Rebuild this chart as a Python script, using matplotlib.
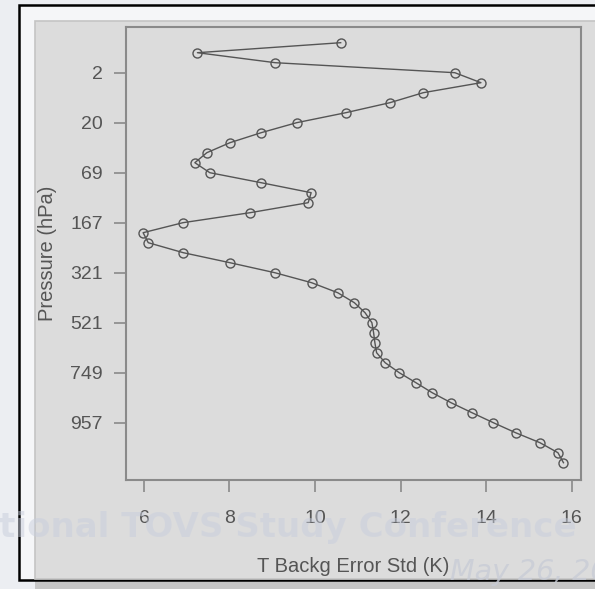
import matplotlib.pyplot as plt
from matplotlib.patches import Rectangle

# level index (top = 1) and background error std
levels = list(range(1, 44))
err_std = [10.6, 7.25, 9.07, 13.27, 13.88, 12.53, 11.75, 10.72, 9.57, 8.74,
           8.01, 7.47, 7.19, 7.54, 8.74, 9.91, 9.84, 8.48, 6.91, 5.98,
           6.10, 6.92, 8.01, 9.06, 9.92, 10.53, 10.92, 11.17, 11.33, 11.37,
           11.40, 11.44, 11.64, 11.97, 12.36, 12.74, 13.18, 13.67, 14.17, 14.69,
           15.26, 15.68, 15.81]

tick_levels = [4, 9, 14, 19, 24, 29, 34, 39]
tick_labels = ['2', '20', '69', '167', '321', '521', '749', '957']
x_ticks = [6, 8, 10, 12, 14, 16]

W, H = 595, 589
fig = plt.figure(figsize=(W / 100, H / 100), dpi=100)
fig.patch.set_facecolor('#eceef2')
plt.rcParams['font.family'] = ['Liberation Sans', 'DejaVu Sans']


def box(x0, y0, x1, y1, **kw):
    # pixel coords (top-left origin) -> figure fraction
    r = Rectangle((x0 / W, 1 - y1 / H), (x1 - x0) / W, (y1 - y0) / H,
                  transform=fig.transFigure, **kw)
    fig.add_artist(r)


# slide frame and grey plot background
box(35, 579, 600, 600, facecolor='#c6c6c6', edgecolor='none', zorder=0)
box(19, 5, 640, 580, facecolor='#f5f6f8', edgecolor='black', lw=1.8, zorder=0)
box(35, 21, 640, 579, facecolor='#dcdcdc', edgecolor='#c4c4c4', lw=1.2, zorder=0)

ax = fig.add_axes([126 / W, 1 - 480 / H, (581 - 126) / W, (480 - 26.7) / H])
ax.set_facecolor('#dcdcdc')
ax.plot(err_std, levels, color='#555555', lw=1.0, marker='o', ms=6.5,
        mfc='none', mec='#555555', mew=1.0)

ax.set_xlim(5.58, 16.22)
ax.set_ylim(44.73, -0.6)
ax.set_xticks(x_ticks)
ax.set_yticks(tick_levels)
ax.set_yticklabels(tick_labels)
for s in ax.spines.values():
    s.set_color('#8a8a8a')
    s.set_linewidth(1.5)
ax.tick_params(axis='both', direction='out', length=8.5, width=1.2,
               color='#8a8a8a', labelcolor='#555555', labelsize=14)
ax.tick_params(axis='x', pad=13)
ax.tick_params(axis='y', pad=8)
ax.set_xlabel('T Backg Error Std (K)', fontsize=14.5, color='#555555', labelpad=22)
ax.set_ylabel('Pressure (hPa)', fontsize=14.5, color='#555555', labelpad=10)

# slide watermark
fig.text(577 / W, 1 - 537 / H, 'International TOVS Study Conference',
         ha='right', va='baseline', fontsize=24.5, fontweight='bold',
         family='DejaVu Sans', color='#c8cedc', alpha=0.5, zorder=5)
fig.text(450 / W, 1 - 580 / H, 'May 26, 2005', ha='left', va='baseline',
         fontsize=20.5, style='italic', family='DejaVu Sans',
         color='#c8ccd6', alpha=0.8, zorder=5)

fig.savefig('out.png', dpi=100, facecolor=fig.get_facecolor())
